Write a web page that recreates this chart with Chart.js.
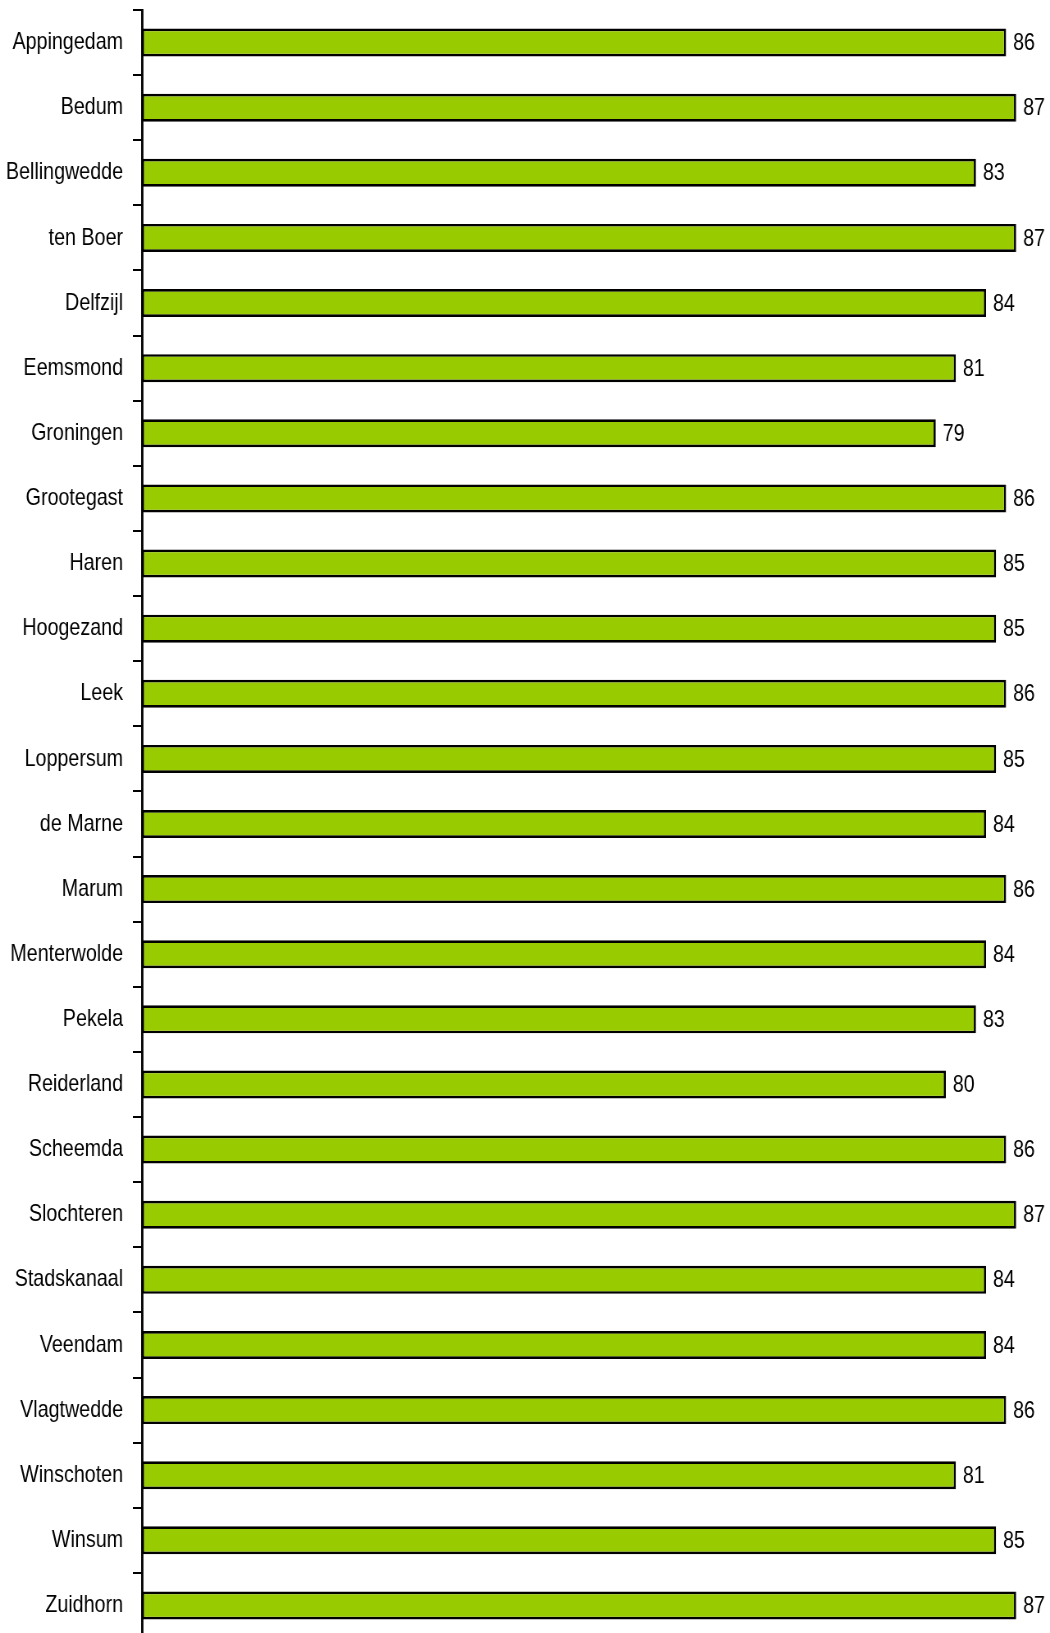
<!DOCTYPE html>
<html>
<head>
<meta charset="utf-8">
<script src="https://cdn.jsdelivr.net/npm/chart.js@4"></script>
<style>
  html, body { margin: 0; padding: 0; background: #fff; overflow: hidden; }
  canvas { display: block; }
</style>
</head>
<body>
<!-- drawn 1280 wide and shown 1050 wide, so the text comes out narrow like the original -->
<canvas id="myChart" width="1280" height="1640" style="width:1050px;height:1640px"></canvas>
<script>
// gemeenten (categories) and their scores
const gemeenten = ["Appingedam", "Bedum", "Bellingwedde", "ten Boer", "Delfzijl", "Eemsmond",
  "Groningen", "Grootegast", "Haren", "Hoogezand", "Leek", "Loppersum", "de Marne", "Marum",
  "Menterwolde", "Pekela", "Reiderland", "Scheemda", "Slochteren", "Stadskanaal", "Veendam",
  "Vlagtwedde", "Winschoten", "Winsum", "Zuidhorn"];
const scores = [86, 87, 83, 87, 84, 81, 79, 86, 85, 85, 86, 85, 84, 86, 84, 83, 80, 86, 87, 84, 84, 86, 81, 85, 87];

const labelFont = "'Liberation Sans', Arial, sans-serif";

const valueLabels = {
    id: 'valueLabels',
    afterDatasetsDraw(chart) {
        const ctx = chart.ctx;
        const meta = chart.getDatasetMeta(0);
        ctx.save();
        ctx.font = "24px " + labelFont;
        ctx.fillStyle = '#000';
        ctx.textBaseline = 'middle';
        ctx.textAlign = 'left';
        meta.data.forEach((bar, i) => {
            ctx.fillText(scores[i], bar.x + 8.5, bar.y + 1);
        });
        ctx.restore();
    }
};

new Chart(document.getElementById("myChart"), {
    type: 'bar',
    data: {
        labels: gemeenten,
        datasets: [{
            data: scores,
            backgroundColor: '#99cc00',
            borderColor: '#000',
            borderWidth: 2.7,
            borderSkipped: false,
            barPercentage: 0.43,
            categoryPercentage: 1
        }]
    },
    options: {
        indexAxis: 'y',
        responsive: false,
        animation: false,
        devicePixelRatio: 1,
        layout: { padding: { top: 10, bottom: 2, left: 0, right: 4.5 } },
        plugins: { legend: { display: false }, tooltip: { enabled: false } },
        scales: {
            x: { display: false, min: 0, max: 90 },
            y: {
                afterFit(scale) {
                    scale.width = 173;
                    scale.paddingTop = 0;
                    scale.paddingBottom = 0;
                },
                border: { display: true, color: '#000', width: 2.8 },
                grid: { drawOnChartArea: false, drawTicks: true, color: '#000', lineWidth: 2, tickLength: 11, offset: true },
                ticks: { color: '#000', padding: 12, font: { family: labelFont, size: 24 } }
            }
        }
    },
    plugins: [valueLabels]
});
</script>
</body>
</html>
